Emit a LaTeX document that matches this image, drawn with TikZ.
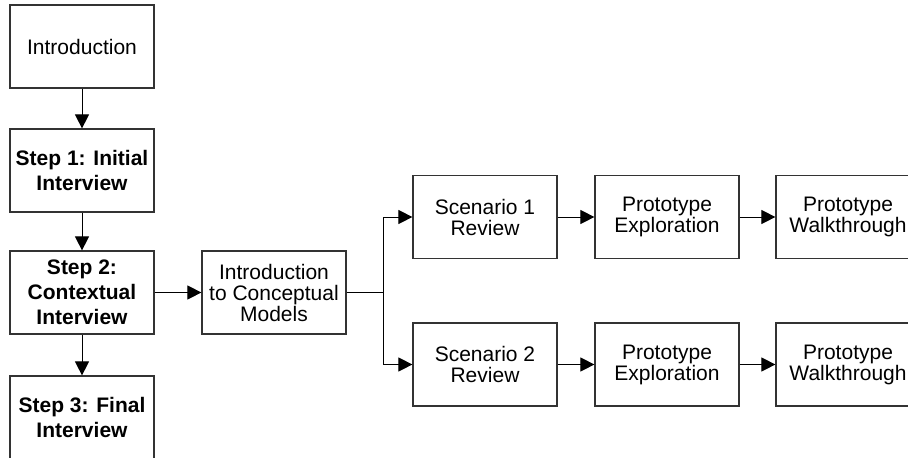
\documentclass[tikz,border=0pt]{standalone}
\usepackage{fontspec}
\setmainfont{Liberation Sans}
\usetikzlibrary{arrows.meta}
\begin{document}
\begin{tikzpicture}[x=1pt,y=-1pt,
  box/.style={draw=black!80, line width=1.2pt, fill=white, minimum width=144pt,
    minimum height=83pt, inner sep=0pt, align=center,
    font=\fontsize{21}{21}\selectfont},
  stepbox/.style={box, font=\fontsize{21}{25}\selectfont\bfseries},
  flow/.style={line width=1pt, -{Triangle[length=14pt,width=14pt]}},
  link/.style={line width=1pt}]
\useasboundingbox (0,0) rectangle (908,458);
\clip (0,0) rectangle (908,458);

% left column: interview steps
\node[box]     (intro) at (82,46.5)  {Introduction};
\node[stepbox] (s1)    at (82,170.5) {Step 1: Initial\\Interview};
\node[stepbox] (s2)    at (82,292.5) {Step 2:\\Contextual\\Interview};
\node[stepbox] (s3)    at (82,417.5) {Step 3: Final\\Interview};

% conceptual models session
\node[box] (icm) at (274,292.5) {Introduction\\to Conceptual\\Models};

% scenario branches
\node[box] (sc1) at (485,217)   {Scenario 1\\Review};
\node[box] (pe1) at (667,217)   {Prototype\\Exploration};
\node[box] (pw1) at (848,217)   {Prototype\\Walkthrough};
\node[box] (sc2) at (485,364.5) {Scenario 2\\Review};
\node[box] (pe2) at (667,364.5) {Prototype\\Exploration};
\node[box] (pw2) at (848,364.5) {Prototype\\Walkthrough};

\coordinate (br) at (383,292.5);

\draw[flow] (intro) -- (s1);
\draw[flow] (s1) -- (s2);
\draw[flow] (s2) -- (s3);
\draw[flow] (s2) -- (icm);
\draw[link] (icm.east) -- (br);
\draw[flow] (br) |- (sc1.west);
\draw[flow] (br) |- (sc2.west);
\draw[flow] (sc1) -- (pe1);
\draw[flow] (pe1) -- (pw1);
\draw[flow] (sc2) -- (pe2);
\draw[flow] (pe2) -- (pw2);
\end{tikzpicture}
\end{document}
